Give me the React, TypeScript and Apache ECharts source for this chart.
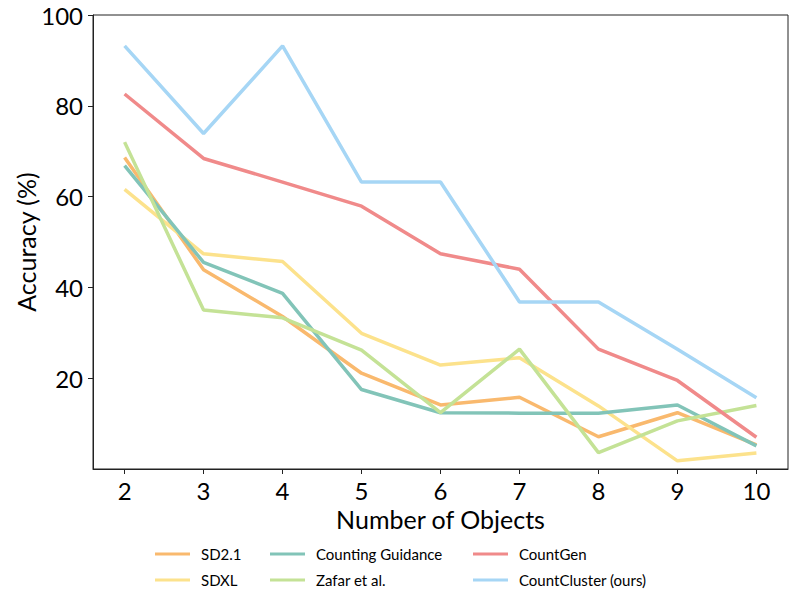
import React, { useEffect, useRef } from "react";
import * as echarts from "echarts";

const objects = [2, 3, 4, 5, 6, 7, 8, 9, 10];
const sd21 = [68.6, 43.9, 33.6, 21.1, 14.1, 15.8, 7.1, 12.4, 5.3];
const sdxl = [61.6, 47.4, 45.7, 29.9, 22.9, 24.5, 13.9, 1.8, 3.5];
const countingGuidance = [66.8, 45.5, 38.7, 17.5, 12.4, 12.3, 12.3, 14.1, 5.1];
const zafar = [72.0, 35.0, 33.3, 26.2, 12.4, 26.4, 3.6, 10.6, 14.0];
const countGen = [82.6, 68.4, 63.2, 57.9, 47.4, 44.0, 26.4, 19.5, 7.0];
const countCluster = [93.2, 73.9, 93.2, 63.2, 63.2, 36.8, 36.8, 26.4, 15.7];
const yTicks = [20, 40, 60, 80, 100];

const seriesDefs = [
  { name: "SD2.1", data: sd21, color: "#F9B96E" },
  { name: "SDXL", data: sdxl, color: "#FCE28C" },
  { name: "Counting Guidance", data: countingGuidance, color: "#82C4B8" },
  { name: "Zafar et al.", data: zafar, color: "#C4E296" },
  { name: "CountGen", data: countGen, color: "#F08A8A" },
  { name: "CountCluster (ours)", data: countCluster, color: "#A6D6F5" },
];

const FONT = "Lato";

export default function App() {
  const ref = useRef<HTMLDivElement>(null);
  useEffect(() => {
    if (!ref.current) return;
    const chart = echarts.init(ref.current, undefined, { renderer: "svg" });
    const legendBase = {
      orient: "vertical" as const,
      top: 546,
      padding: 0,
      icon: "rect",
      itemWidth: 35,
      itemHeight: 3,
      itemGap: 10,
      textStyle: { fontFamily: FONT, fontSize: 15, lineHeight: 16, color: "#000", padding: [0, 0, 0, 6] },
    };
    chart.setOption({
      animation: false,
      backgroundColor: "#fff",
      grid: {
        left: 93,
        top: 15,
        right: 9,
        bottom: 132,
        containLabel: false,
        outerBoundsMode: "none",
        show: true,
        borderColor: "#222",
        borderWidth: 1,
      },
      legend: [
        { ...legendBase, left: 155, data: ["SD2.1", "SDXL"] },
        { ...legendBase, left: 270, data: ["Counting Guidance", "Zafar et al."] },
        { ...legendBase, left: 473, data: ["CountGen", "CountCluster (ours)"] },
      ],
      xAxis: {
        type: "value",
        min: 1.6,
        max: 10.4,
        name: "Number of Objects",
        nameLocation: "middle",
        nameGap: 34,
        nameTextStyle: { fontFamily: FONT, fontSize: 25, color: "#000" },
        splitLine: { show: false },
        axisLine: { show: true, lineStyle: { color: "#222" } },
        axisTick: { show: true, length: 5, customValues: objects, lineStyle: { color: "#222" } },
        axisLabel: {
          customValues: objects,
          fontFamily: FONT,
          fontSize: 24,
          color: "#000",
          margin: 9,
        },
      },
      yAxis: {
        type: "value",
        min: 0,
        max: 100,
        name: "Accuracy (%)",
        nameLocation: "middle",
        nameGap: 55,
        nameMoveOverlap: false,
        nameTextStyle: { fontFamily: FONT, fontSize: 25, color: "#000" },
        splitLine: { show: false },
        axisLine: { show: true, lineStyle: { color: "#222" } },
        axisTick: { show: true, length: 5, customValues: yTicks, lineStyle: { color: "#222" } },
        axisLabel: {
          customValues: yTicks,
          fontFamily: FONT,
          fontSize: 24,
          color: "#000",
          margin: 10,
        },
      },
      series: seriesDefs.map((s) => ({
        name: s.name,
        type: "line",
        data: objects.map((x, i) => [x, s.data[i]]),
        symbol: "none",
        color: s.color,
        lineStyle: { width: 3.5, color: s.color },
      })),
    });
    return () => chart.dispose();
  }, []);
  return (
    <div
      ref={ref}
      style={{ position: "fixed", left: 0, top: 0, width: 797, height: 601, background: "#fff" }}
    />
  );
}
